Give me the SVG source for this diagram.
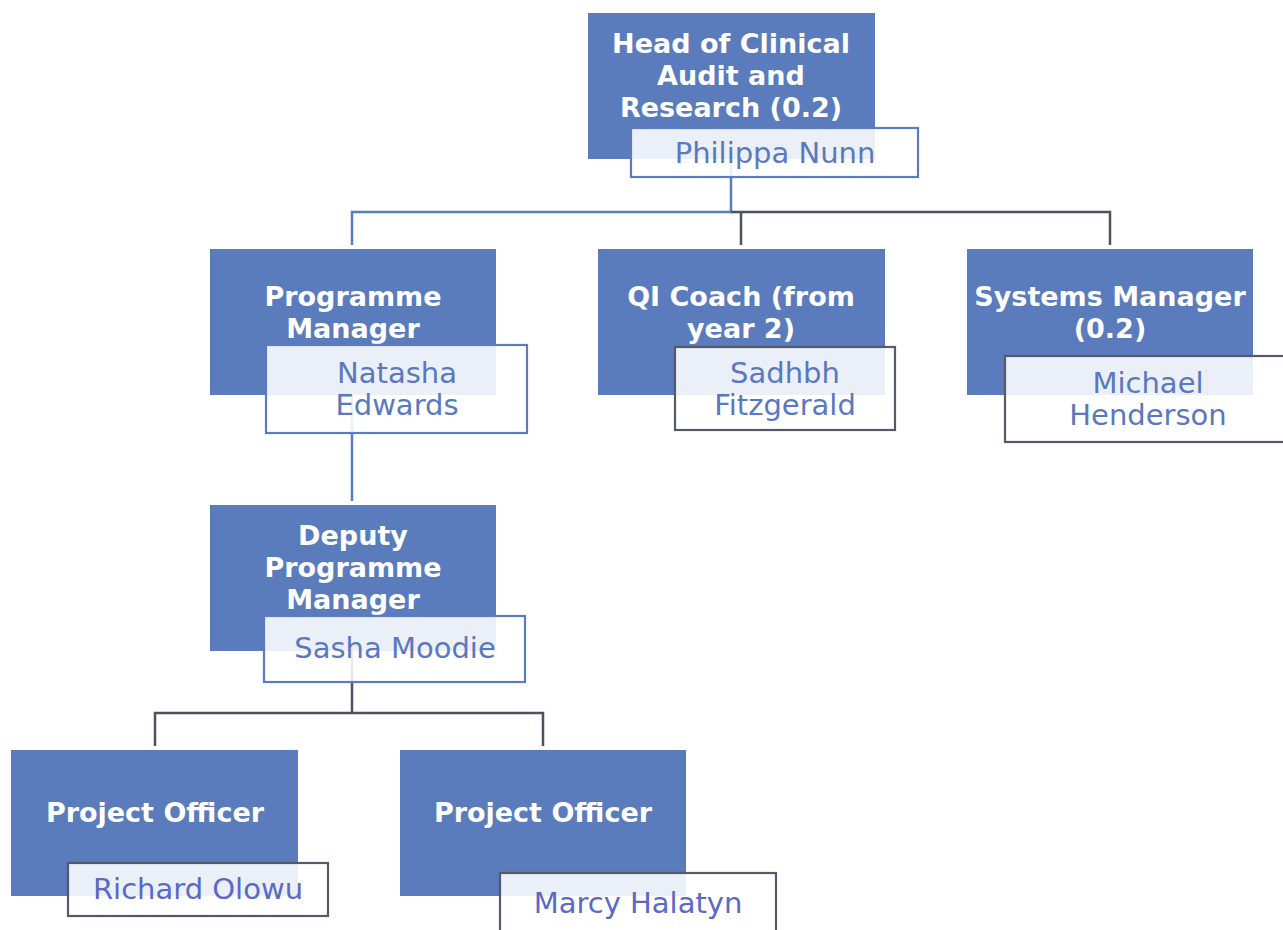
<svg xmlns="http://www.w3.org/2000/svg" width="1283" height="930" viewBox="0 0 1283 930">
<style>
.box{fill:#5a7bbc}
.nb{fill:#ffffff;fill-opacity:0.88;stroke-width:2.2}
.nbb{stroke:#5a7bbf}
.nbd{stroke:#555a68}
.t{font-family:"DejaVu Sans","Liberation Sans",sans-serif;font-weight:bold;font-size:27px;fill:#ffffff;text-anchor:middle}
.n{font-family:"DejaVu Sans","Liberation Sans",sans-serif;font-size:29px;fill:#5a78bf;text-anchor:middle}
.nv{fill:#5a69c6}
.cb{stroke:#5a7bbf;stroke-width:2.5;fill:none}
.cd{stroke:#4d5261;stroke-width:2.5;fill:none}
</style>
<rect width="1283" height="930" fill="#ffffff"/>
<g id="connectors">
<path class="cb" d="M731 159 V212 H352 V245"/>
<path class="cd" d="M731 212 H1110 V245 M741 212 V245"/>
<path class="cb" d="M352 395 V501"/>
<path class="cd" d="M352 651 V713 M155 746 V713 H543 V746"/>
</g>
<g id="head">
<rect class="box" x="588" y="13" width="287" height="146"/>
<text class="t" x="731" y="53">Head of Clinical</text>
<text class="t" x="731" y="85">Audit and</text>
<text class="t" x="731" y="117">Research (0.2)</text>
<rect class="nb nbb" x="631" y="128" width="287" height="49"/>
<text class="n" x="775" y="163">Philippa Nunn</text>
</g>
<g id="programme-manager">
<rect class="box" x="210" y="249" width="286" height="146"/>
<text class="t" x="353" y="306">Programme</text>
<text class="t" x="353" y="338">Manager</text>
<rect class="nb nbb" x="266" y="345" width="261" height="88"/>
<text class="n" x="397" y="383">Natasha</text>
<text class="n" x="397" y="415">Edwards</text>
</g>
<g id="qi-coach">
<rect class="box" x="598" y="249" width="287" height="146"/>
<text class="t" x="741" y="306">QI Coach (from</text>
<text class="t" x="741" y="338">year 2)</text>
<rect class="nb nbd" x="675" y="347" width="220" height="83"/>
<text class="n" x="785" y="383">Sadhbh</text>
<text class="n" x="785" y="415">Fitzgerald</text>
</g>
<g id="systems-manager">
<rect class="box" x="967" y="249" width="286" height="146"/>
<text class="t" x="1110" y="306">Systems Manager</text>
<text class="t" x="1110" y="338">(0.2)</text>
<rect class="nb nbd" x="1005" y="356" width="290" height="86"/>
<text class="n" x="1148" y="393">Michael</text>
<text class="n" x="1148" y="425">Henderson</text>
</g>
<g id="deputy">
<rect class="box" x="210" y="505" width="286" height="146"/>
<text class="t" x="353" y="545">Deputy</text>
<text class="t" x="353" y="577">Programme</text>
<text class="t" x="353" y="609">Manager</text>
<rect class="nb nbb" x="264" y="616" width="261" height="66"/>
<text class="n" x="395" y="658">Sasha Moodie</text>
</g>
<g id="project-officer-1">
<rect class="box" x="11" y="750" width="287" height="146"/>
<text class="t" x="155" y="822">Project Officer</text>
<rect class="nb nbd" x="68" y="863" width="260" height="53"/>
<text class="n nv" x="198" y="899">Richard Olowu</text>
</g>
<g id="project-officer-2">
<rect class="box" x="400" y="750" width="286" height="146"/>
<text class="t" x="543" y="822">Project Officer</text>
<rect class="nb nbd" x="500" y="873" width="276" height="70"/>
<text class="n nv" x="638" y="913">Marcy Halatyn</text>
</g>
</svg>
